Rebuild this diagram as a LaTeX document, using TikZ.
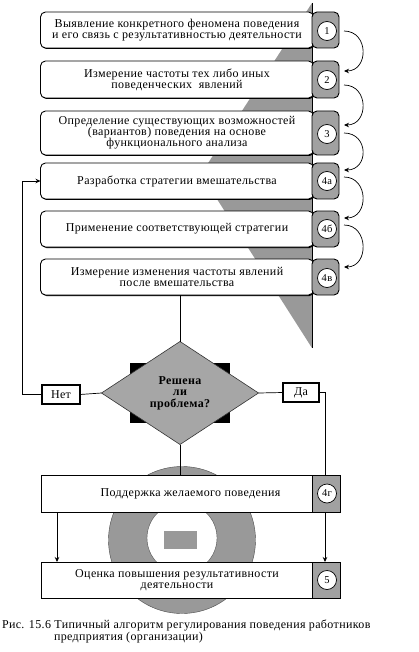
\documentclass[tikz,border=0pt]{standalone}
\usepackage{fontspec}
\setmainfont{Liberation Serif}[LetterSpace=3]
\usetikzlibrary{shapes.geometric,arrows.meta,shadows}
\definecolor{tabgray}{gray}{0.63}
\definecolor{shapegray}{gray}{0.6}
\definecolor{diagray}{gray}{0.65}
\begin{document}
\begin{tikzpicture}[x=1pt,y=-1pt,
  font=\fontsize{12}{11}\selectfont,
  every node/.style={inner sep=0pt, outer sep=0pt},
  shad/.style={drop shadow={shadow xshift=1pt, shadow yshift=-1pt, fill=black, opacity=1}},
  rbox/.style={draw, line width=0.9pt, fill=white, rounded corners=5pt, minimum width=273pt, minimum height=#1, align=center, shad},
  sbox/.style={draw, line width=0.9pt, fill=white, minimum width=299pt, minimum height=#1, align=center, shad},
  rtab/.style={draw, line width=0.9pt, fill=tabgray, rounded corners=5pt, minimum width=27pt, minimum height=#1},
  stab/.style={draw, line width=0.9pt, fill=tabgray, minimum width=28pt, minimum height=#1},
  num/.style={circle, draw, line width=0.7pt, fill=white, minimum size=19pt, font=\fontsize{10.5}{10}\selectfont},
  lab/.style={draw, line width=1.2pt, fill=white, minimum width=#1, minimum height=19pt},
  conn/.style={line width=0.7pt},
  arr/.style={line width=0.7pt, -{Stealth[length=5pt,width=4.5pt]}},
  stepflow/.style={line width=0.7pt, -{Stealth[length=5pt,width=4.5pt]}},
]
\useasboundingbox (0,0) rectangle (418,652);
\fill[white] (0,0) rectangle (418,652);

% background grey wedge
\fill[shapegray] (312,3) -- (201,174) -- (312,348) -- cycle;
\draw[line width=0.8pt] (312,3) -- (312,348);

% background ring
\fill[shapegray, draw=black!70, line width=0.4pt] (182,540) circle (73.5);
\fill[white, draw=black!70, line width=0.4pt] (182,538) circle (35);
\fill[shapegray] (164,531) rectangle (197,549);

% stages
\node[rbox=36pt] (b1) at (177,30) {Выявление конкретного феномена поведения\\и его связь с результативностью деятельности};
\node[rtab=36pt] (t1) at (325.5,30) {};
\node[num] (n1) at (327,31) {1};

\node[rbox=37pt] (b2) at (177,79.5) {Измерение частоты тех либо иных\\поведенческих\ \ явлений};
\node[rtab=37pt] (t2) at (325.5,79.5) {};
\node[num] (n2) at (327,80) {2};

\node[rbox=44pt] (b3) at (177,133) {Определение существующих возможностей\\(вариантов) поведения на основе\\функционального анализа};
\node[rtab=44pt] (t3) at (325.5,133) {};
\node[num] (n3) at (327,134) {3};

\node[rbox=36pt] (b4a) at (177,181) {Разработка стратегии вмешательства};
\node[rtab=36pt] (t4a) at (325.5,181) {};
\node[num] (n4a) at (327,181) {4а};

\node[rbox=36pt] (b4b) at (177,229) {Применение соответствующей стратегии};
\node[rtab=36pt] (t4b) at (325.5,229) {};
\node[num] (n4b) at (327,229) {4б};

\node[rbox=36pt] (b4v) at (177,277) {Измерение изменения частоты явлений\\после вмешательства};
\node[rtab=36pt] (t4v) at (325.5,277) {};
\node[num] (n4v) at (327,278) {4в};

% curved arrows between steps
\draw[stepflow] ([shift={(5,1)}]t1.east) .. controls +(25,0) and +(25,0) .. ([shift={(5,-8.5)}]t2.east);
\draw[stepflow] ([shift={(5,5.5)}]t2.east) .. controls +(25,0) and +(25,0) .. ([shift={(5,-8)}]t3.east);
\draw[stepflow] ([shift={(5,0)}]t3.east) .. controls +(25,0) and +(25,0) .. ([shift={(5,-11)}]t4a.east);
\draw[stepflow] ([shift={(5,-4)}]t4a.east) .. controls +(25,0) and +(25,0) .. ([shift={(5,-11)}]t4b.east);
\draw[stepflow] ([shift={(5,-4)}]t4b.east) .. controls +(25,0) and +(25,0) .. ([shift={(5,-10)}]t4v.east);

% decision
\fill[black] (130,363) rectangle (230,423);
\node[diamond, draw=black!80, line width=0.6pt, fill=diagray, minimum width=157pt, minimum height=103pt, align=center, font=\fontsize{12}{11.5}\selectfont\bfseries] (dia) at (180,393) {Решена\\ли\\проблема?};
\node[lab=38pt] (net) at (61,394.5) {Нет};
\node[lab=36pt] (da) at (301,392.5) {Да};

% lower boxes
\node[sbox=37pt] (b4g) at (190.5,493.5) {Поддержка желаемого поведения};
\node[stab=28pt, minimum height=37pt] (t4g) at (326,493.5) {};
\node[num] (n4g) at (327,493.5) {4г};

\node[sbox=36pt] (b5) at (190.5,580) {\hspace*{-27pt}\shortstack{Оценка повышения результативности\\деятельности}};
\node[stab=28pt, minimum height=36pt] (t5) at (326,580) {};
\node[num] (n5) at (327,580) {5};

% connectors
\coordinate (lft) at (22,394.5);
\coordinate (rgt) at (325,392.5);
\coordinate (lx) at (57,0);
\draw[conn] (dia.north |- b4v.south) -- (dia.north);
\draw[conn] (dia.south) -- (dia.south |- b4g.north);
\draw[conn] (dia.west) -- (net.east);
\draw[arr] (net.west) -- (lft) |- (b4a.west);
\draw[conn] (dia.east) -- (da.west);
\draw[conn] (da.east) -- (rgt) -- (rgt |- b4g.north);
\draw[arr] (rgt |- b4g.south) -- (rgt |- b5.north);
\draw[arr] (lx |- b4g.south) -- (lx |- b5.north);

% caption
\node[anchor=base west] (cap1) at (2,628) {Рис. 15.6 Типичный алгоритм регулирования поведения работников};
\node[anchor=base west] (cap2) at (54,640) {предприятия (организации)};
\end{tikzpicture}
\end{document}
